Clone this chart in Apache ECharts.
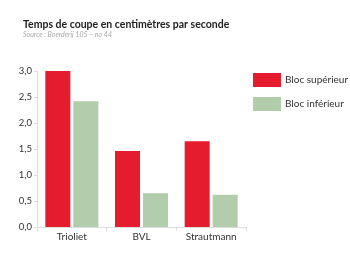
<!DOCTYPE html>
<html>
<head>
<meta charset="utf-8">
<script src="https://cdn.jsdelivr.net/npm/echarts@6/dist/echarts.min.js"></script>
<style>
html, body { margin: 0; padding: 0; background: #fff; }
#chart { width: 350px; height: 253px; }
</style>
</head>
<body>
<div id="chart"></div>
<script>
var categories = ['Trioliet', 'BVL', 'Strautmann'];
var blocSuperieur = [3.0, 1.46, 1.65];
var blocInferieur = [2.42, 0.65, 0.62];
var yTicks = [0, 0.5, 1, 1.5, 2, 2.5, 3];

var chart = echarts.init(document.getElementById('chart'));
var font = 'Lato';

chart.setOption({
	animation: false,
	color: ['#e41c2d', '#b2cdab'],
	title: {
		text: 'Temps de coupe en centimètres par seconde',
		subtext: 'Source : Boerderij 105 – no 44',
		left: 18,
		top: 14,
		itemGap: 1,
		textStyle: { fontFamily: font, fontSize: 10.5, fontWeight: 'bold', color: '#222' },
		subtextStyle: { fontFamily: font, fontSize: 7, fontStyle: 'italic', color: '#aaa' }
	},
	legend: {
		orient: 'vertical',
		left: 248,
		top: 68,
		itemWidth: 28,
		itemHeight: 14,
		itemGap: 10,
		icon: 'rect',
		textStyle: { fontFamily: font, fontSize: 10, color: '#333', padding: [0, 0, 0, -1] },
		data: ['Bloc supérieur', 'Bloc inférieur']
	},
	grid: { left: 37, top: 71, width: 209, height: 156, containLabel: false },
	xAxis: {
		type: 'category',
		data: categories,
		axisLine: { lineStyle: { color: '#ddd' } },
		axisTick: { show: true, alignWithLabel: false, length: 4, lineStyle: { color: '#ddd' } },
		axisLabel: { fontFamily: font, fontSize: 10, color: '#333', margin: 5 }
	},
	yAxis: {
		type: 'value',
		min: 0,
		max: 3,
		interval: 0.5,
		axisLine: { show: true, lineStyle: { color: '#ddd' } },
		axisTick: { show: true, length: 3, lineStyle: { color: '#ddd' } },
		splitLine: { show: false },
		axisLabel: {
			fontFamily: font, fontSize: 9.5, color: '#333', margin: 5,
			formatter: function(v){ return v.toFixed(1).replace('.', ','); }
		}
	},
	series: [{
		name: 'Bloc supérieur',
		type: 'bar',
		barWidth: 25,
		barGap: '12%',
		data: blocSuperieur
	}, {
		name: 'Bloc inférieur',
		type: 'bar',
		barWidth: 25,
		data: blocInferieur
	}]
});
</script>
</body>
</html>
